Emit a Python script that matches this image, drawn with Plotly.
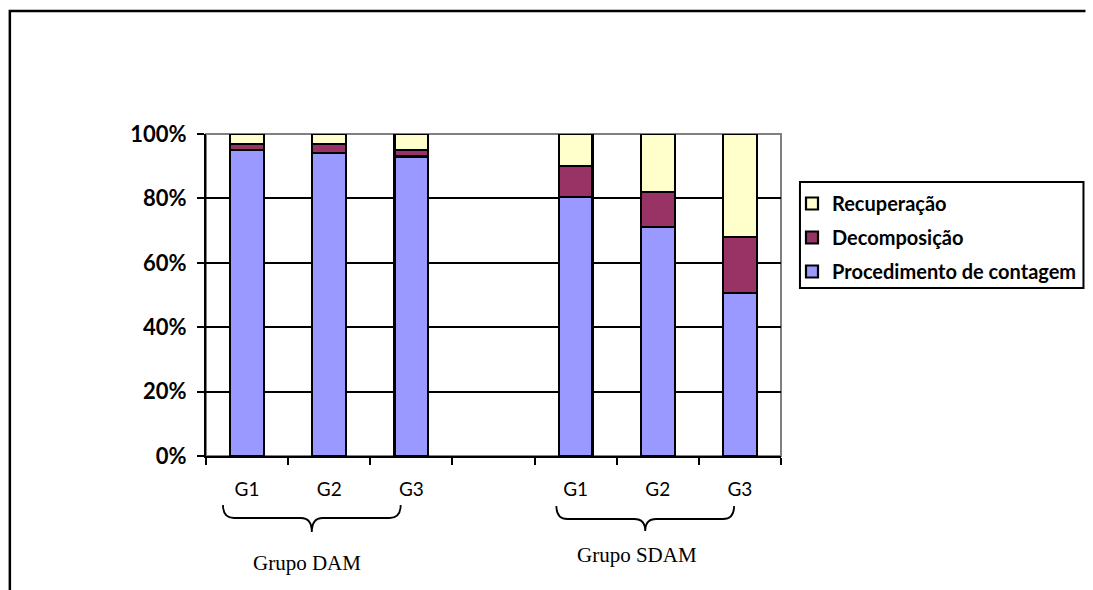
import plotly.graph_objects as go

# Category slots: three groups of DAM, an empty gap, three groups of SDAM
slots = [0, 1, 2, 4, 5, 6]
tick_labels = ["G1", "G2", "G3", "G1", "G2", "G3"]
group_names = ["Grupo DAM", "Grupo SDAM"]

# Shares (fractions of 1) for each bar, bottom to top
procedimento = [0.95, 0.94, 0.93, 0.805, 0.71, 0.505]
decomposicao = [0.02, 0.03, 0.02, 0.095, 0.11, 0.175]
recuperacao = [0.03, 0.03, 0.05, 0.10, 0.18, 0.32]

# (name, values, colour, legend rank) - stacked bottom to top
series = [
    ("Procedimento de contagem", procedimento, "#9999FF", 3),
    ("Decomposição", decomposicao, "#993366", 2),
    ("Recuperação", recuperacao, "#FFFFCC", 1),
]

# Plot-area geometry in pixels (figure is 1093 x 590)
W, H = 1093, 590
L, R, T, B = 206, 782, 134, 456


def px(x):
    return (x - L) / (R - L)


def py(y):
    return (B - y) / (B - T)


fig = go.Figure()
for name, vals, color, rank in series:
    fig.add_trace(go.Bar(
        x=slots, y=vals, name=name, legendgroup=name, legendrank=rank,
        width=0.41,
        marker=dict(color=color, line=dict(color="black", width=2.2)),
    ))

shapes = []
# Outer frame: a single open path along the top and left edges
shapes.append(dict(type="path", xref="paper", yref="paper",
                   path=f"M{px(1087)},{py(11)} L{px(9.5)},{py(11)} L{px(9.5)},{py(590)}",
                   line=dict(color="black", width=2.5), layer="below"))
# Grey top / right border of plot area
shapes.append(dict(type="rect", xref="paper", yref="paper",
                   x0=0, x1=1, y0=0, y1=1,
                   line=dict(color="#808080", width=2), layer="between"))
# Legend box
shapes.append(dict(type="rect", xref="paper", yref="paper",
                   x0=px(801), x1=px(1085), y0=py(182), y1=py(288),
                   line=dict(color="black", width=2), layer="below"))


def brace(x0, x1, xt, ytop, ymid, ytip):
    r = 11
    pts = [
        f"M{px(x0)},{py(ytop)}",
        f"Q{px(x0)},{py(ymid)} {px(x0 + r)},{py(ymid)}",
        f"L{px(xt - r)},{py(ymid)}",
        f"Q{px(xt)},{py(ymid)} {px(xt)},{py(ytip)}",
        f"Q{px(xt)},{py(ymid)} {px(xt + r)},{py(ymid)}",
        f"L{px(x1 - r)},{py(ymid)}",
        f"Q{px(x1)},{py(ymid)} {px(x1)},{py(ytop)}",
    ]
    return dict(type="path", xref="paper", yref="paper", path=" ".join(pts),
                line=dict(color="black", width=1.8))


shapes.append(brace(223, 401, 312, 505, 518, 532))
shapes.append(brace(557, 735, 646, 506, 519, 531))

annotations = [
    dict(text=group_names[0], x=px(307), y=py(563), xref="paper", yref="paper",
         showarrow=False, xanchor="center", yanchor="middle",
         font=dict(family="Liberation Serif", size=21, color="black")),
    dict(text=group_names[1], x=px(638), y=py(555), xref="paper", yref="paper",
         showarrow=False, xanchor="center", yanchor="middle",
         font=dict(family="Liberation Serif", size=21, color="black")),
]

fig.update_layout(
    width=W, height=H,
    margin=dict(l=L, r=W - R, t=T, b=H - B, pad=0),
    barmode="stack",
    plot_bgcolor="white", paper_bgcolor="white",
    shapes=shapes, annotations=annotations,
    legend=dict(
        x=px(792), y=py(184), xanchor="left", yanchor="top",
        borderwidth=0, bgcolor="rgba(0,0,0,0)",
        font=dict(family="Lato", size=20, color="black", weight="bold"),
        traceorder="grouped", tracegroupgap=5,
        itemwidth=30,
    ),
    xaxis=dict(
        range=[-0.5, 6.5],
        tickvals=slots, ticktext=tick_labels,
        ticks="", showgrid=False, zeroline=False,
        showline=True, linecolor="black", linewidth=2,
        tickfont=dict(family="Lato", size=19, color="black"),
        ticklabelstandoff=15,
        minor=dict(tickvals=[-0.5, 0.5, 1.5, 2.5, 3.5, 4.5, 5.5, 6.5],
                   ticks="outside", ticklen=7, tickwidth=2, tickcolor="black",
                   showgrid=False),
    ),
    yaxis=dict(
        range=[0, 1], tickvals=[0, 0.2, 0.4, 0.6, 0.8, 1.0], tickformat=".0%",
        showgrid=True, gridcolor="black", gridwidth=1.5, zeroline=False,
        showline=True, linecolor="black", linewidth=2,
        ticks="outside", ticklen=7, tickwidth=2, tickcolor="black",
        tickfont=dict(family="Lato", size=22, color="black", weight="bold"),
        ticklabelstandoff=6,
    ),
)

fig.write_html("out.html", config={"displayModeBar": False})
